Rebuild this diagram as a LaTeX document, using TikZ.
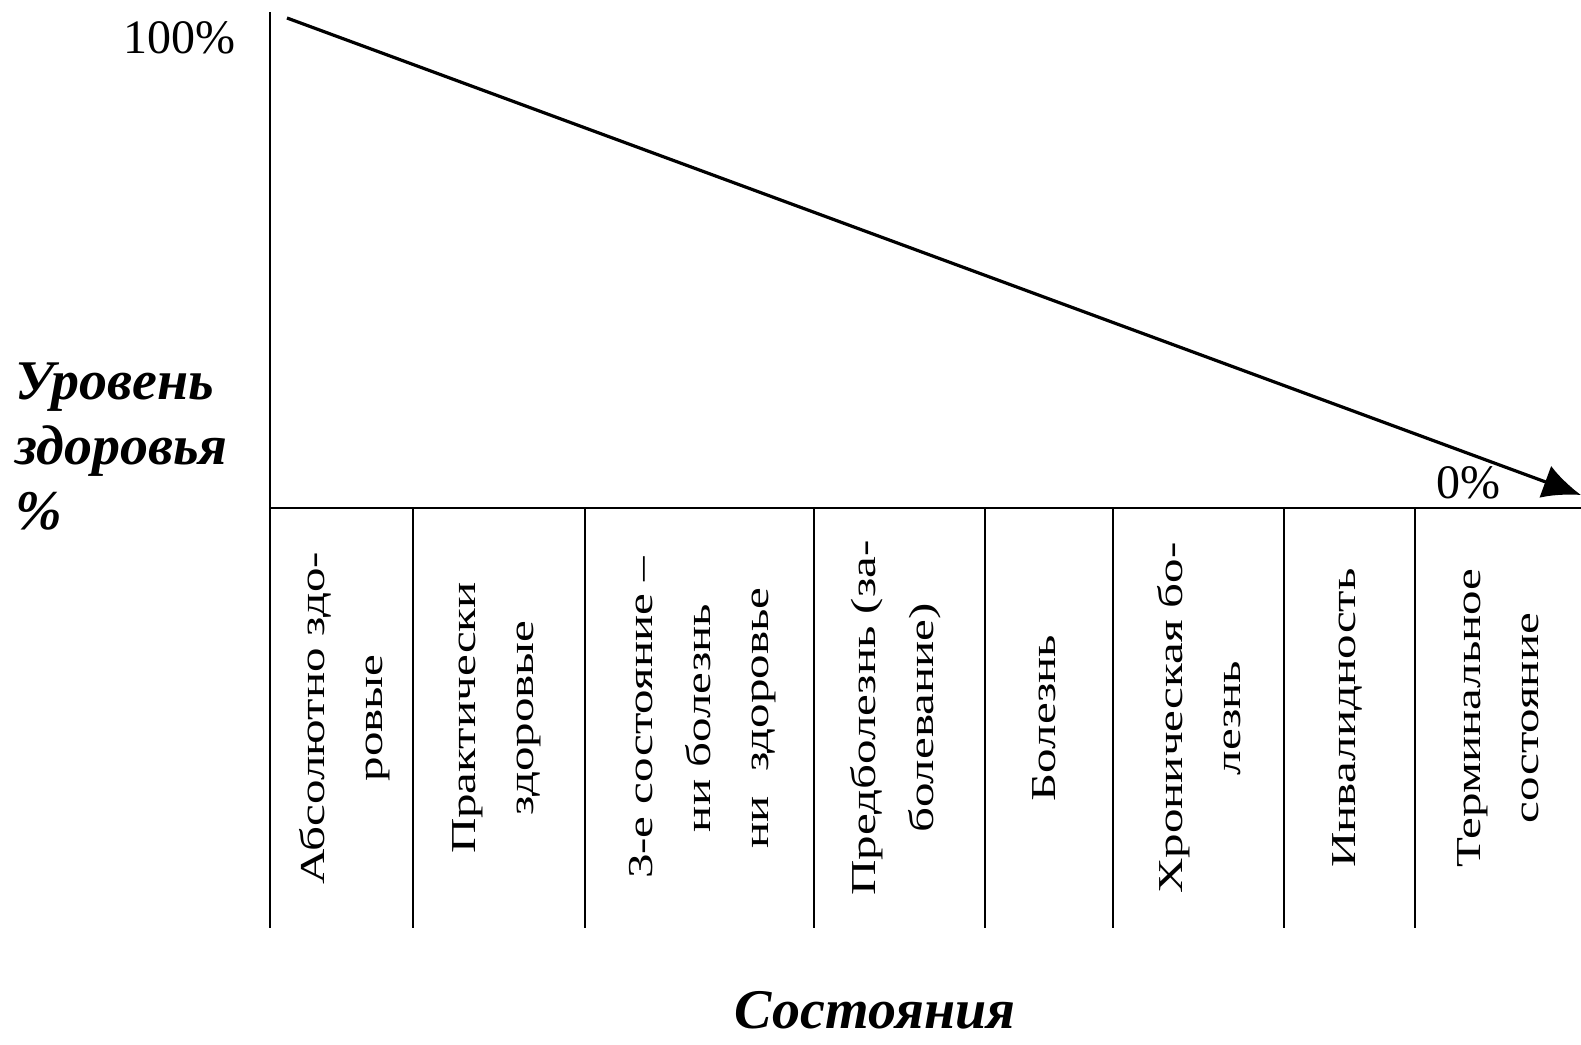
\documentclass[tikz,border=0pt]{standalone}
\usepackage{fontspec}
\setmainfont{Liberation Serif}
\newfontfamily\statefont[FakeStretch=1.4]{Liberation Serif}
\usetikzlibrary{arrows.meta}

\begin{document}
\begin{tikzpicture}[x=1pt, y=-1pt,
  statelabel/.style={rotate=90, align=center, inner sep=0pt,
    font=\statefont\fontsize{35}{58}\selectfont},
  axistitle/.style={inner sep=0pt, font=\fontsize{56}{65}\selectfont\bfseries\itshape},
  percent/.style={inner sep=0pt, font=\fontsize{48}{58}\selectfont}]
\useasboundingbox (0,0) rectangle (1581,1044);

% Axes
\coordinate (top) at (270,12);
\coordinate (origin) at (270,508);
\coordinate (bottom) at (270,928);
\coordinate (xend) at (1581,508);
\draw[line width=2.4pt] (top) -- (bottom);
\draw[line width=2.4pt] (origin) -- (xend);

% Health level falls from 100% to 0%
\coordinate (full) at (287,18);
\coordinate (zero) at (1581,495);
\draw[-{Latex[length=38pt,width=34pt]}, line width=3.2pt] (full) -- (zero);

% Column dividers
\foreach \x in {413,585,814,985,1113,1284,1415}
  \draw[line width=2.2pt] (\x,508) -- (\x,928);

% Percent marks
\node[percent] (p100) at (179,38) {100\%};
\node[percent] (p0) at (1468,483) {0\%};

% Axis titles
\node[axistitle, anchor=west, align=left] (ylabel) at (15,447) {Уровень\\здоровья\\\%};
\node[axistitle, anchor=base] (xlabel) at (875,1028) {Состояния};

% States
\node[statelabel] (s1) at (345,718) {Абсолютно здо-\\ровые};
\node[statelabel] (s2) at (497,718) {Практически\\здоровые};
\node[statelabel] (s3) at (703,718) {3-е состояние –\\ни болезнь\\ни\ \ здоровье};
\node[statelabel] (s4) at (896,718) {Предболезнь (за-\\болевание)};
\node[statelabel] (s5) at (1044,718) {Болезнь};
\node[statelabel] (s6) at (1199,718) {Хроническая бо-\\лезнь};
\node[statelabel] (s7) at (1347,718) {Инвалидность};
\node[statelabel] (s8) at (1498,718) {Терминальное\\состояние};

\end{tikzpicture}
\end{document}
